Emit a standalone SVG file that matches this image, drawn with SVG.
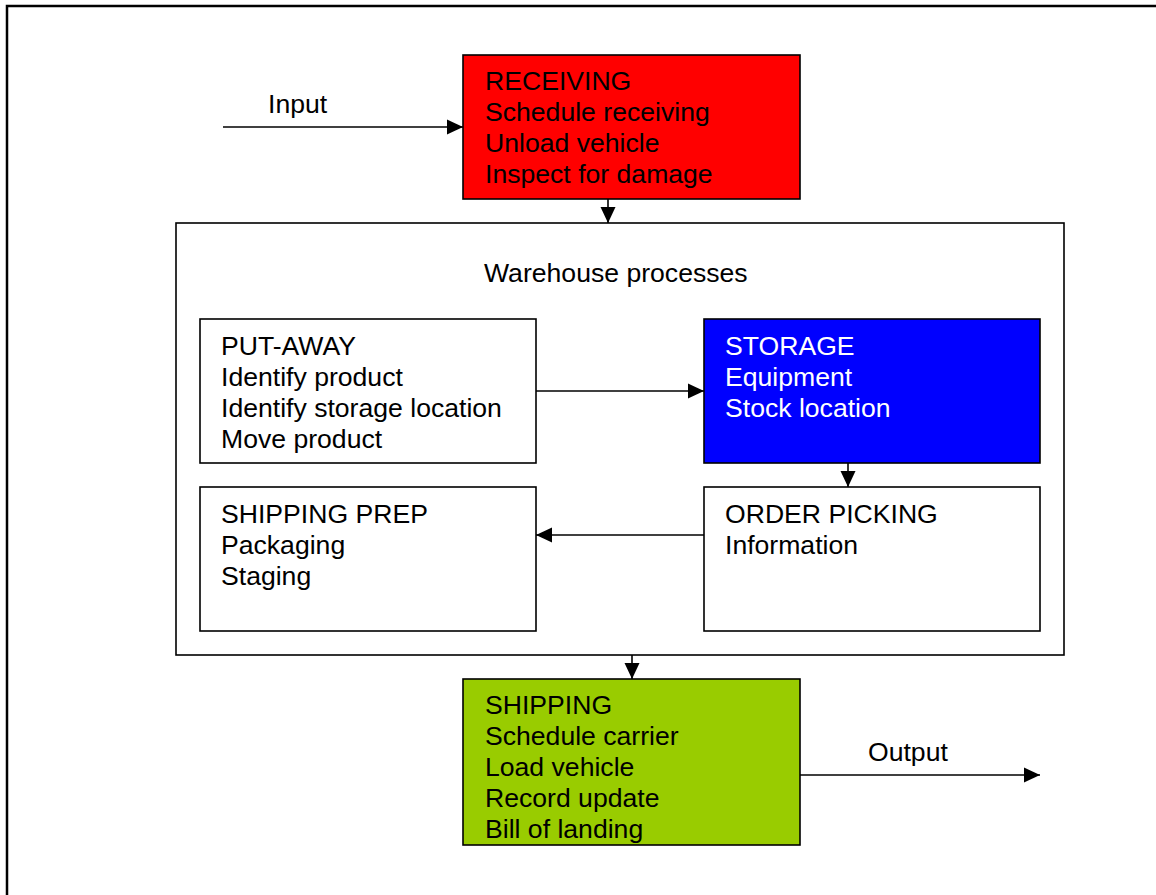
<svg xmlns="http://www.w3.org/2000/svg" width="1156" height="895" viewBox="0 0 1156 895">
<style>
text{font-family:"Liberation Sans",Arial,sans-serif;font-size:26.6px;fill:#000}
.box{stroke:#000;stroke-width:1.6}
.w{fill:#fff}
.conn{stroke:#000;stroke-width:1.6;fill:none}
</style>
<defs>
<marker id="ah" markerUnits="userSpaceOnUse" markerWidth="17" markerHeight="17" viewBox="0 0 17 17" refX="16" refY="8.5" orient="auto">
<path d="M0,1 L16,8.5 L0,16 Z" fill="#000"/>
</marker>
</defs>
<rect width="1156" height="895" fill="#fff"/>
<path d="M7,895 V6 H1156" fill="none" stroke="#000" stroke-width="2.5"/>
<g id="receiving">
<rect class="box" x="463" y="55" width="337" height="144" fill="#ff0000"/>
<text x="485" y="90">RECEIVING</text>
<text x="485" y="121">Schedule receiving</text>
<text x="485" y="152">Unload vehicle</text>
<text x="485" y="183">Inspect for damage</text>
</g>
<g id="warehouse">
<rect class="box w" x="176" y="223" width="888" height="432"/>
<text x="484" y="282">Warehouse processes</text>
</g>
<g id="putaway">
<rect class="box w" x="200" y="319" width="336" height="144"/>
<text x="221" y="355">PUT-AWAY</text>
<text x="221" y="386">Identify product</text>
<text x="221" y="417">Identify storage location</text>
<text x="221" y="448">Move product</text>
</g>
<g id="storage">
<rect class="box" x="704" y="319" width="336" height="144" fill="#0000ff"/>
<text x="725" y="355" style="fill:#fff">STORAGE</text>
<text x="725" y="386" style="fill:#fff">Equipment</text>
<text x="725" y="417" style="fill:#fff">Stock location</text>
</g>
<g id="shippingprep">
<rect class="box w" x="200" y="487" width="336" height="144"/>
<text x="221" y="523">SHIPPING PREP</text>
<text x="221" y="554">Packaging</text>
<text x="221" y="585">Staging</text>
</g>
<g id="orderpicking">
<rect class="box w" x="704" y="487" width="336" height="144"/>
<text x="725" y="523">ORDER PICKING</text>
<text x="725" y="554">Information</text>
</g>
<g id="shipping">
<rect class="box" x="463" y="679" width="337" height="166" fill="#99cc00"/>
<text x="485" y="714">SHIPPING</text>
<text x="485" y="745">Schedule carrier</text>
<text x="485" y="776">Load vehicle</text>
<text x="485" y="807">Record update</text>
<text x="485" y="838">Bill of landing</text>
</g>
<g id="labels">
<text x="268" y="113">Input</text>
<text x="868" y="761">Output</text>
</g>
<g id="connectors">
<line class="conn" x1="223" y1="127" x2="463" y2="127" marker-end="url(#ah)"/>
<line class="conn" x1="608" y1="199" x2="608" y2="223" marker-end="url(#ah)"/>
<line class="conn" x1="536" y1="391" x2="704" y2="391" marker-end="url(#ah)"/>
<line class="conn" x1="848" y1="463" x2="848" y2="487" marker-end="url(#ah)"/>
<line class="conn" x1="704" y1="535" x2="536" y2="535" marker-end="url(#ah)"/>
<line class="conn" x1="632" y1="655" x2="632" y2="679" marker-end="url(#ah)"/>
<line class="conn" x1="800" y1="775" x2="1040" y2="775" marker-end="url(#ah)"/>
</g>
</svg>
